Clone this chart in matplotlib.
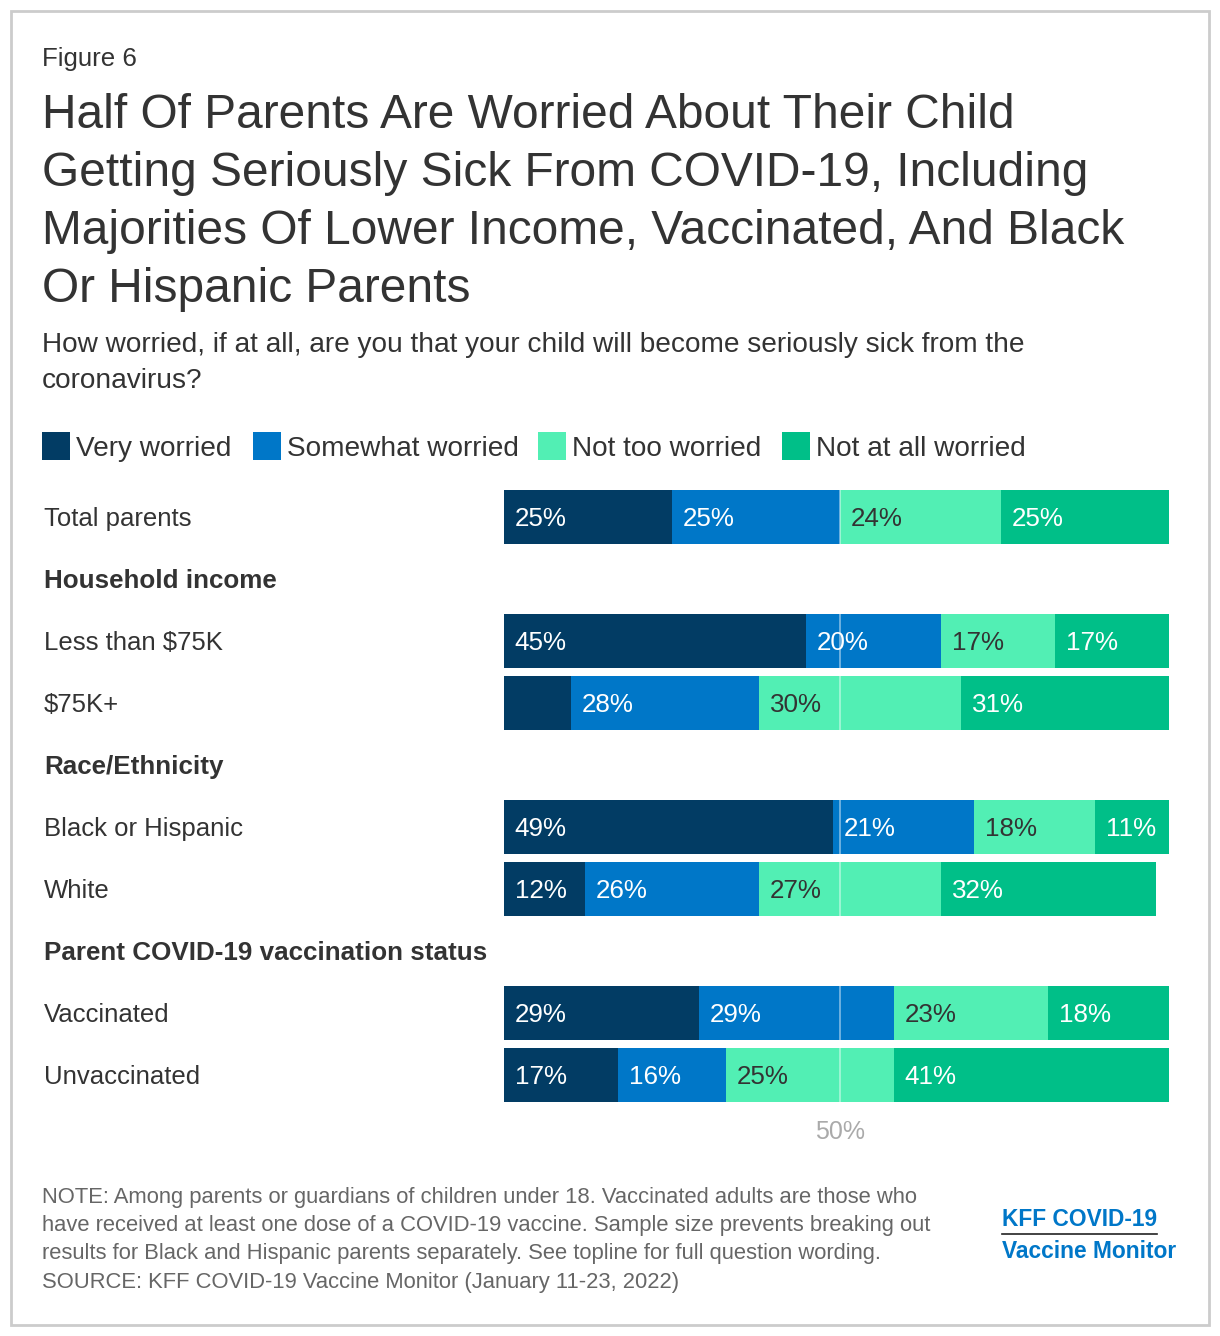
import matplotlib
matplotlib.use("Agg")
import matplotlib.pyplot as plt
from matplotlib.patches import Rectangle
from matplotlib.lines import Line2D

plt.rcParams['font.family'] = ['Liberation Sans', 'DejaVu Sans']

# ---- data ----
rows = ['Total parents', 'Household income', 'Less than $75K', '$75K+',
        'Race/Ethnicity', 'Black or Hispanic', 'White',
        'Parent COVID-19 vaccination status', 'Vaccinated', 'Unvaccinated']
is_header = [False, True, False, False, True, False, False, True, False, False]

series_names = ['Very worried', 'Somewhat worried', 'Not too worried', 'Not at all worried']
very_worried = [25, 0, 45, 10, 0, 49, 12, 0, 29, 17]
somewhat_worried = [25, 0, 20, 28, 0, 21, 26, 0, 29, 16]
not_too_worried = [24, 0, 17, 30, 0, 18, 27, 0, 23, 25]
not_at_all_worried = [25, 0, 17, 31, 0, 11, 32, 0, 18, 41]

colors = ['#023c64', '#0077c8', '#52efb4', '#00bf88']
label_colors = ['white', 'white', '#333333', 'white']

W, H = 1220, 1336
DARK = '#333333'


def fx(x):
    return x / W


def fy(y):
    return 1 - y / H


fig = plt.figure(figsize=(W / 100, H / 100), dpi=100)
fig.patch.set_facecolor('white')

# outer border
fig.add_artist(Rectangle((fx(11), fy(1325)), fx(1209) - fx(11), fy(11) - fy(1325),
                         transform=fig.transFigure, fill=False, edgecolor='#cccccc', lw=2))

# header text
fig.text(fx(42), fy(59), 'Figure 6', fontsize=18.6, color=DARK, va='center')
title = ['Half Of Parents Are Worried About Their Child',
         'Getting Seriously Sick From COVID-19, Including',
         'Majorities Of Lower Income, Vaccinated, And Black',
         'Or Hispanic Parents']
for i, line in enumerate(title):
    fig.text(fx(42), fy(115 + 58.3 * i), line, fontsize=34.5, color=DARK, va='center')
sub = ['How worried, if at all, are you that your child will become seriously sick from the',
       'coronavirus?']
for i, line in enumerate(sub):
    fig.text(fx(42), fy(345 + 36 * i), line, fontsize=20.2, color=DARK, va='center')

# legend (manual)
leg_x = [42, 253, 538, 782]
for x, name, c in zip(leg_x, series_names, colors):
    fig.add_artist(Rectangle((fx(x), fy(460)), fx(28), 28 / H, transform=fig.transFigure,
                             facecolor=c, edgecolor='none'))
    fig.text(fx(x + 34), fy(449), name, fontsize=20.2, color=DARK, va='center')

# bar axes
ax = fig.add_axes([fx(504), fy(1106), 672 / W, 620 / H])
ax.set_xlim(0, 100)
ax.set_ylim(len(rows) - 0.5, -0.5)
ax.axis('off')

series = [very_worried, somewhat_worried, not_too_worried, not_at_all_worried]
left = [0] * len(rows)
for s, vals in enumerate(series):
    for i, v in enumerate(vals):
        if is_header[i] or v == 0:
            continue
        ax.barh(i, v, left=left[i], height=0.87, color=colors[s], edgecolor='none', zorder=2)
        if v >= 11:
            ax.text(left[i] + 1.6, i + 0.035, f'{v}%', fontsize=18.7, color=label_colors[s],
                    va='center', ha='left', zorder=4)
        left[i] += v

ax.axvline(50, color='white', alpha=0.5, lw=1.2, zorder=3)

# row labels
for i, r in enumerate(rows):
    ypix = 519 + 62 * i
    if is_header[i]:
        fig.text(fx(44), fy(ypix), r, fontsize=18.7, fontweight='bold', color=DARK, va='center')
    else:
        fig.text(fx(44), fy(ypix), r, fontsize=18.5, color=DARK, va='center')

fig.text(fx(840), fy(1132), '50%', fontsize=18, color='#aaaaaa', ha='center', va='center')

# notes
notes = ['NOTE: Among parents or guardians of children under 18. Vaccinated adults are those who',
         'have received at least one dose of a COVID-19 vaccine. Sample size prevents breaking out',
         'results for Black and Hispanic parents separately. See topline for full question wording.',
         'SOURCE: KFF COVID-19 Vaccine Monitor (January 11-23, 2022)']
for i, line in enumerate(notes):
    fig.text(fx(42), fy(1197 + 28.5 * i), line, fontsize=15.85, color='#666666', va='center')

# logo
fig.text(fx(1002), fy(1219), 'KFF COVID-19', fontsize=16.4, fontweight='bold', color='#0077c8',
         va='center')
fig.add_artist(Line2D([fx(1002), fx(1157)], [fy(1234), fy(1234)], transform=fig.transFigure,
                      color='#222222', lw=1.2))
fig.text(fx(1002), fy(1252), 'Vaccine Monitor', fontsize=16.4, fontweight='bold', color='#0077c8',
         va='center')

fig.savefig('out.png', dpi=100, facecolor='white')
